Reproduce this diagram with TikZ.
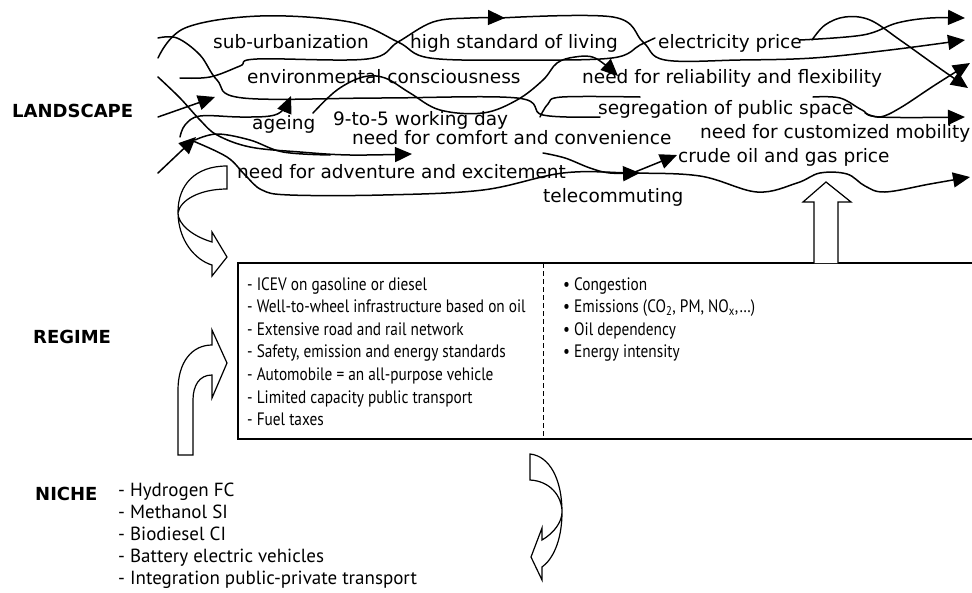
\documentclass[tikz,border=0pt]{standalone}
\usepackage{fontspec}
\setmainfont{DejaVu Sans}
\newfontfamily\listfont{PT Sans}
\newfontfamily\boxfont[FakeStretch=0.85]{PT Sans}
\usetikzlibrary{arrows.meta}

\tikzset{
  trend/.style={line width=1.5pt, line cap=round, line join=round},
  trendtip/.style={trend, -{Triangle[length=17pt,width=15pt]}},
  factor/.style={font=\fontsize{18.5}{20}\selectfont, inner sep=0pt, anchor=base west},
  level/.style={font=\bfseries\fontsize{18}{20}\selectfont, inner sep=0pt, anchor=base west},
  items/.style={font=\boxfont\fontsize{18}{22.6}\selectfont, align=left, anchor=north west, inner sep=0pt},
  nicheitems/.style={font=\listfont\fontsize{19}{22}\selectfont, align=left, anchor=north west, inner sep=0pt},
  blockarrow/.style={line width=1.2pt, fill=white, line join=miter},
}

\begin{document}
\begin{tikzpicture}[x=1pt, y=-1pt]
    \useasboundingbox (0,0) rectangle (972,592);
    \clip (0,0) rectangle (972,592);

    % levels
    \node[level] (landscape) at (12,117) {LANDSCAPE};
    \node[level] (regime) at (33,343) {REGIME};
    \node[level] (niche) at (35,500) {NICHE};

    % landscape trends
    \draw[trend] plot[smooth, tension=.6] coordinates {(158,58) (185,28) (260,16) (350,22) (398,42) (430,58) (520,60) (612,58) (640,45) (655,38)};
    \draw[trendtip] plot[smooth, tension=.6] coordinates {(180,78) (210,77) (240,66) (257,59) (367,59) (398,42) (433,22) (470,18) (505,18)};
    \draw[trendtip] plot[smooth, tension=.6] coordinates {(500,18) (613,17) (643,42) (665,60) (740,60) (813,58) (890,50) (965,40)};
    \draw[trendtip] plot[smooth, tension=.6] coordinates {(313,113) (337,90) (363,77) (385,78) (410,93) (440,110) (483,113) (517,100) (543,80) (557,63) (575,57) (595,58) (618,76)};
    \draw[trend] plot[smooth, tension=.6] coordinates {(158,38) (177,38) (200,55) (217,80) (243,98) (380,98) (517,98) (543,115) (600,117)};
    \draw[trend] plot[smooth, tension=.6] coordinates {(540,117) (548,104) (562,97) (640,97)};
    \draw[trendtip] plot[smooth, tension=.6] coordinates {(800,40) (863,35) (897,23) (930,18) (965,18)};
    \draw[trendtip] plot[smooth, tension=.6] coordinates {(812,40) (825,25) (845,17) (870,20) (900,40) (935,65) (968,88)};
    \draw[trendtip] plot[smooth, tension=.6] coordinates {(865,113) (880,117) (900,108) (935,85) (970,63)};
    \draw[trendtip] plot[smooth, tension=.6] coordinates {(813,97) (840,98) (862,110) (880,117) (965,117)};
    \draw[trendtip] plot[smooth, tension=.6] coordinates {(158,77) (180,98) (200,120) (217,135) (250,147) (300,152) (350,155) (412,154)};
    \draw[trend] plot[smooth, tension=.6] coordinates {(195,140) (217,134) (250,140) (283,152) (330,155)};
    \draw[trendtip] (158,117) -- (215,97);
    \draw[trendtip] (158,173) -- (196,137);
    \draw[trendtip] plot[smooth, tension=.6] coordinates {(180,137) (185,125) (200,116) (240,117) (270,116) (283,110) (291,96)};
    \draw[trendtip] plot[smooth, tension=.6] coordinates {(193,141) (227,157) (245,175) (262,190) (290,195) (383,195) (483,190) (563,173) (630,173) (700,176) (757,192) (797,183) (820,173) (847,174) (865,186) (885,192) (930,184) (970,177)};
    \draw[trendtip] plot[smooth, tension=.6] coordinates {(543,153) (565,158) (590,168) (610,173) (640,173)};
    \draw[trendtip] (635,172) -- (677,155);

    \node[factor] (suburb) at (213,48) {sub-urbanization};
    \node[factor] (living) at (410,48) {high standard of living};
    \node[factor] (electricity) at (658,48) {electricity price};
    \node[factor] (environment) at (247,83) {environmental consciousness};
    \node[factor] (reliability) at (582,83) {need for reliability and flexibility};
    \node[factor] (ageing) at (252,129) {ageing};
    \node[factor] (workday) at (333,125) {9-to-5 working day};
    \node[factor] (segregation) at (598,114) {segregation of public space};
    \node[factor] (comfort) at (352,144) {need for comfort and convenience};
    \node[factor] (mobility) at (700,138) {need for customized mobility};
    \node[factor] (oilprice) at (678,162) {crude oil and gas price};
    \node[factor] (adventure) at (237,178) {need for adventure and excitement};
    \node[factor] (telecommuting) at (543,202) {telecommuting};

    % regime
    \draw[line width=1.2pt] (238,263) rectangle (985,439);
    \draw[line width=1pt, dash pattern=on 5pt off 3pt] (543,263) -- (543,439);
    \node[items] (regimelist) at (247,277) {- ICEV on gasoline or diesel\\- Well-to-wheel infrastructure based on oil\\- Extensive road and rail network\\- Safety, emission and energy standards\\- Automobile = an all-purpose vehicle\\- Limited capacity public transport\\- Fuel taxes};
    \node[items] (problems) at (563,277) {• Congestion\\• Emissions (CO\textsubscript{2}, PM, NO\textsubscript{x},…)\\• Oil dependency\\• Energy intensity};

    % niche
    \node[nicheitems] (nichelist) at (118,483) {- Hydrogen FC\\- Methanol SI\\- Biodiesel CI\\- Battery electric vehicles\\- Integration public-private transport};

    % block arrows between levels
    \draw[blockarrow] (227,166) .. controls (195,166) and (178,185) .. (178,212) .. controls (178,240) and (195,260) .. (212,265) -- (212,276) -- (227,257) -- (212,232) -- (212,242) .. controls (192,236) and (178,224) .. (178,213) .. controls (180,200) and (200,189) .. (227,189) -- cycle;
    \draw[blockarrow] (178,455) -- (178,390) .. controls (178,362) and (192,345) .. (212,345) -- (212,330) -- (227,363) -- (212,398) -- (212,375) .. controls (199,375) and (193,386) .. (193,400) -- (193,455) -- cycle;
    \draw[blockarrow] (530,454) .. controls (550,456) and (562,480) .. (562,512) .. controls (562,542) and (552,560) .. (542,567) -- (542,580) -- (531,557) -- (542,528) -- (542,540) .. controls (554,533) and (562,522) .. (562,512) .. controls (562,496) and (550,481) .. (530,480) -- cycle;
    \draw[blockarrow] (814,263) -- (814,202) -- (803,202) -- (826,182) -- (851,202) -- (838,202) -- (838,263);
\end{tikzpicture}
\end{document}
